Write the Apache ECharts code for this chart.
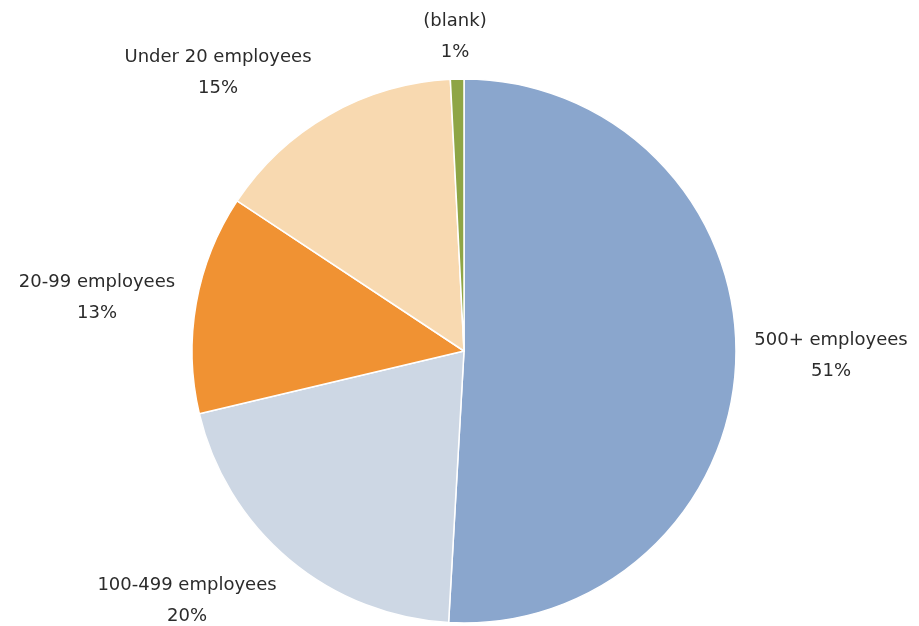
<!DOCTYPE html>
<html>
<head>
<meta charset="utf-8">
<script src="https://cdn.jsdelivr.net/npm/echarts@6/dist/echarts.min.js"></script>
<style>
  html, body { margin: 0; padding: 0; background: #fff; }
  #chart { width: 919px; height: 626px; }
</style>
</head>
<body>
<div id="chart"></div>
<script>
// Company size breakdown (share of respondents, %; labels show whole percents)
const categories = ['500+ employees', '100-499 employees', '20-99 employees', 'Under 20 employees', '(blank)'];
const shares = [50.9, 20.4, 13.0, 14.9, 0.8];
const sliceColors = ['#8aa6cd', '#cdd7e4', '#f09233', '#f8d9b0', '#8ea545'];

// Where each two-line label is centred on the page
const labelCentres = [[831, 356], [187, 601], [97, 298], [218, 73], [455, 37]];

const chart = echarts.init(document.getElementById('chart'), null, { renderer: 'canvas' });

chart.setOption({
  backgroundColor: '#ffffff',
  animation: false,
  series: [{
    type: 'pie',
    center: [464, 351],
    radius: [0, 272],
    startAngle: 90,
    clockwise: true,
    percentPrecision: 0,
    avoidLabelOverlap: false,
    data: categories.map((name, i) => ({
      name: name,
      value: shares[i],
      itemStyle: { color: sliceColors[i] }
    })),
    itemStyle: { borderColor: '#ffffff', borderWidth: 1.5 },
    label: {
      show: true,
      position: 'outside',
      formatter: p => p.name + '\n' + p.percent + '%',
      fontFamily: 'DejaVu Sans',
      fontSize: 18,
      lineHeight: 31,
      color: '#2b2b2b',
      align: 'center'
    },
    labelLine: { show: false },
    labelLayout: function (params) {
      const c = labelCentres[params.dataIndex];
      return { x: c[0], y: c[1], align: 'center', verticalAlign: 'middle' };
    },
    emphasis: { disabled: true }
  }]
});
</script>
</body>
</html>
